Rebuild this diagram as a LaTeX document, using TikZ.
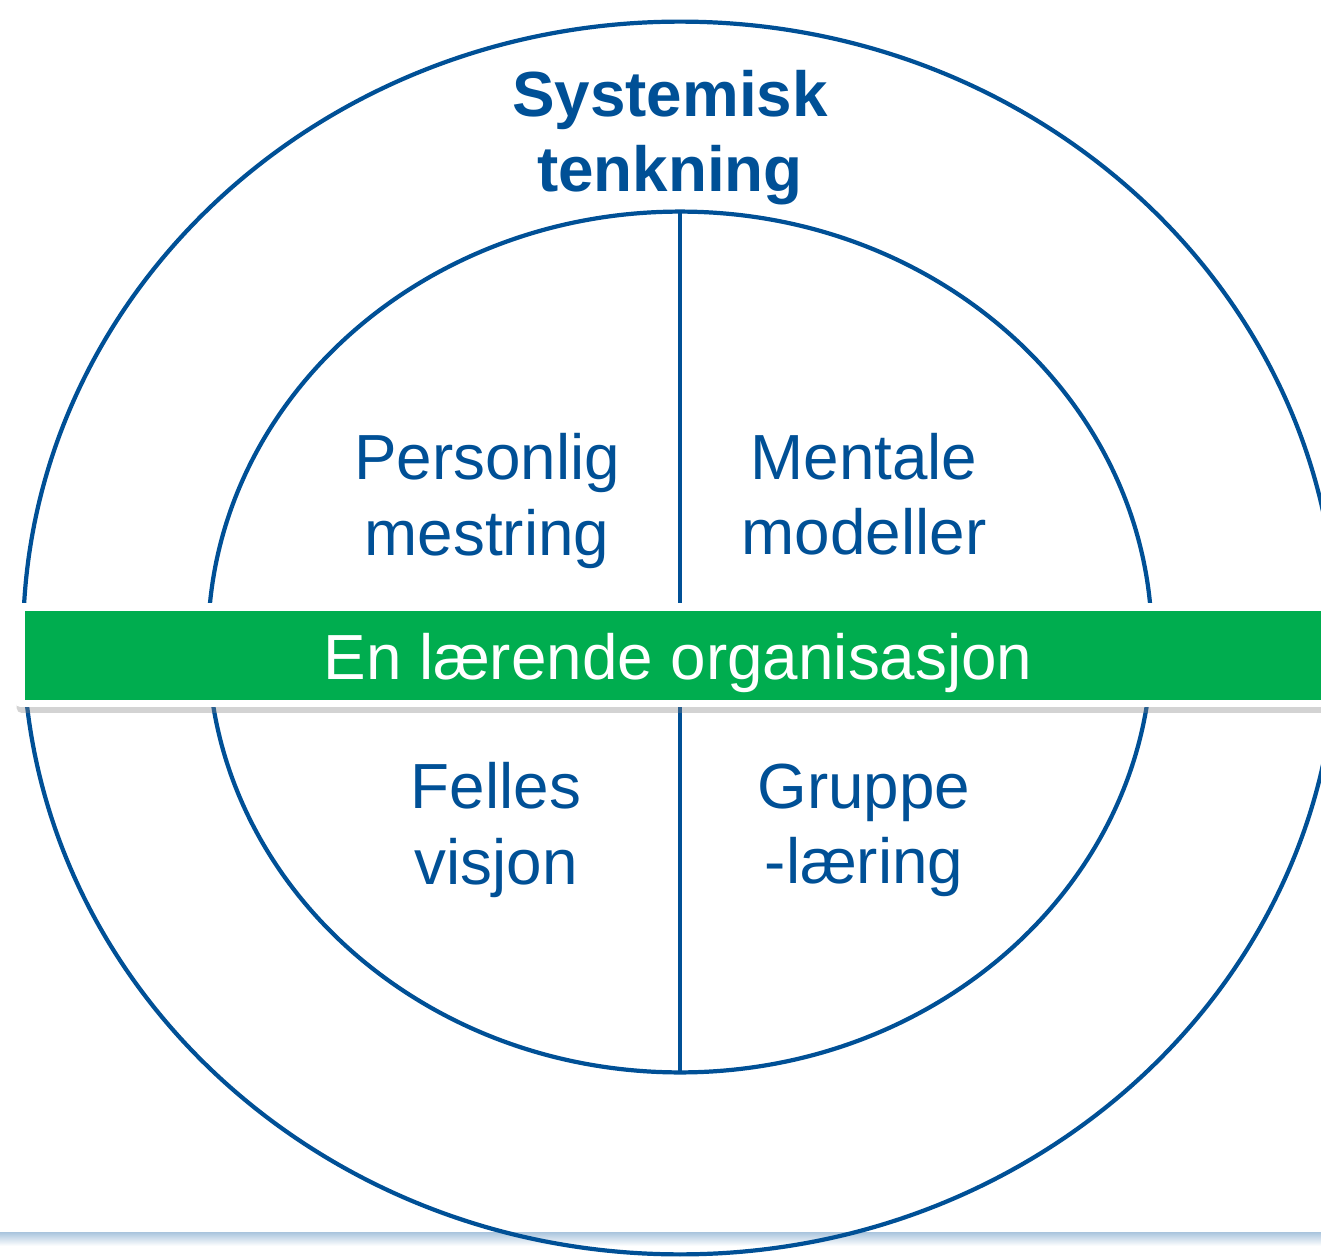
\documentclass[tikz,border=0pt]{standalone}
\usepackage{fontspec}
\setmainfont{Liberation Sans}
\usetikzlibrary{shapes.geometric,shadows}
\definecolor{senblue}{RGB}{0,80,150}
\definecolor{sengreen}{RGB}{0,173,79}
\definecolor{senline}{RGB}{169,196,221}

\begin{document}
\begin{tikzpicture}[x=0.02cm,y=-0.02cm]
            \tikzstyle{every node}=[font=\fontsize{36.3}{42.7}\selectfont]
            \tikzstyle{ring}=[draw=senblue,line width=2.4pt,ellipse,inner sep=0pt,outer sep=0pt]
            \tikzstyle{label}=[text=senblue,align=center,inner sep=0pt]
            \useasboundingbox (0,0) rectangle (1321,1260);

            % bottom rule
            \shade[top color=senline,bottom color=white] (0,1232) rectangle (1321,1246);

            % rings
            \node[ring,minimum width=26.28cm,minimum height=24.66cm] (outer) at (680,638) {};
            \node[ring,minimum width=18.88cm,minimum height=17.22cm] (inner) at (680,642) {};
            \draw[senblue,line width=2.4pt] (inner.north) -- (inner.south);

            % band
            \node[fill=white,rounded corners=0.1cm,minimum width=26.8cm,minimum height=2.08cm,
                  drop shadow={shadow xshift=0.03cm,shadow yshift=-0.12cm,opacity=0.35}] (frame) at (685,655) {};
            \node[fill=sengreen,minimum width=26.7cm,minimum height=1.78cm,inner sep=0pt] (band) at (692,655.5) {};
            \node[text=white,inner sep=0pt] (org) at (678,663) {En lærende organisasjon};

            % texts
            \node[label,font=\fontsize{36.3}{42.7}\selectfont\bfseries] (system) at (670,138) {Systemisk\\tenkning};
            \node[label] (personal) at (487,501) {Personlig\\mestring};
            \node[label] (mental) at (864,494) {Mentale\\modeller};
            \node[label] (vision) at (496,830) {Felles\\visjon};
            \node[label] (team) at (864,830) {Gruppe\\-læring};
        \end{tikzpicture}
\end{document}
